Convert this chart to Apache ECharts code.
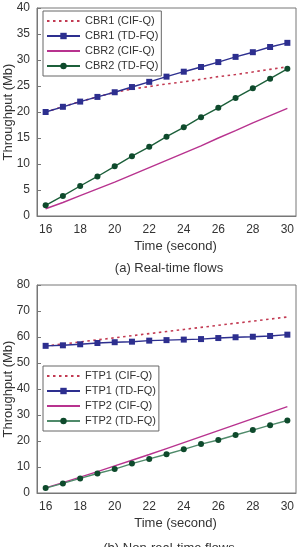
<!DOCTYPE html>
<html>
<head>
<meta charset="utf-8">
<script src="https://cdn.jsdelivr.net/npm/echarts@6/dist/echarts.min.js"></script>
<style>
  html,body{margin:0;padding:0;background:#fff;}
  #chart{width:300px;height:547px;}
</style>
</head>
<body>
<div id="chart"></div>
<script>
// 时间轴（秒）
const timeLabels = ['16','17','18','19','20','21','22','23','24','25','26','27','28','29','30']

// (a) 实时流
const cbr1Cifq = [20, 21, 22, 22.9, 23.8, 24.4, 24.9, 25.4, 25.8, 26.3, 26.8, 27.2, 27.7, 28.2, 28.7]
const cbr1Tdfq = [20, 21, 22, 22.9, 23.8, 24.8, 25.8, 26.8, 27.75, 28.65, 29.6, 30.6, 31.5, 32.5, 33.3]
const cbr2Cifq = [1.4, 2.6, 3.9, 5.2, 6.5, 7.9, 9.3, 10.7, 12.1, 13.5, 15.0, 16.4, 17.9, 19.3, 20.7]
const cbr2Tdfq = [2.05, 3.85, 5.77, 7.6, 9.55, 11.5, 13.3, 15.25, 17.05, 19.0, 20.8, 22.7, 24.55, 26.4, 28.3]

// (b) 非实时流
const ftp1Cifq = [56.5, 57.3, 58.1, 58.9, 59.7, 60.5, 61.3, 62.1, 62.9, 63.7, 64.5, 65.3, 66.1, 66.9, 67.7]
const ftp1Tdfq = [56.6, 56.8, 57.2, 57.7, 58.0, 58.2, 58.6, 58.8, 59.0, 59.2, 59.6, 59.9, 60.1, 60.4, 60.9]
const ftp2Cifq = [2, 4, 6.1, 8.2, 10.4, 12.6, 14.8, 17.1, 19.4, 21.7, 24.0, 26.3, 28.6, 30.9, 33.2]
const ftp2Tdfq = [1.9, 3.7, 5.6, 7.5, 9.2, 11.3, 13.1, 14.9, 16.8, 18.8, 20.4, 22.3, 24.2, 26.1, 27.9]

const topNames = ['CBR1 (CIF-Q)', 'CBR1 (TD-FQ)', 'CBR2 (CIF-Q)', 'CBR2 (TD-FQ)']
const botNames = ['FTP1 (CIF-Q)', 'FTP1 (TD-FQ)', 'FTP2 (CIF-Q)', 'FTP2 (TD-FQ)']

const font = 'Liberation Sans, Arial, sans-serif'
const textColor = '#333'
const axisColor = '#777'

const chart = echarts.init(document.getElementById('chart'))

const makeX = (gridIndex) => ({
  type: 'category',
  gridIndex: gridIndex,
  data: timeLabels,
  boundaryGap: true,
  name: 'Time (second)',
  nameLocation: 'middle',
  nameGap: 24,
  nameMoveOverlap: false,
  nameTextStyle: {fontSize: 13, color: textColor, fontFamily: font, padding: [0, 0, 0, 18]},
  axisLine: {lineStyle: {color: axisColor}},
  axisTick: {inside: true, length: 4, interval: 0, lineStyle: {color: axisColor}},
  axisLabel: {interval: 1, fontSize: 12, color: textColor, fontFamily: font, margin: 8},
  splitLine: {show: false}
})

const makeY = (gridIndex, max, step) => ({
  type: 'value',
  gridIndex: gridIndex,
  min: 0,
  max: max,
  interval: step,
  name: 'Throughput (Mb)',
  nameLocation: 'middle',
  nameGap: 22,
  nameMoveOverlap: false,
  nameTextStyle: {fontSize: 13, color: textColor, fontFamily: font},
  axisLine: {show: true, lineStyle: {color: axisColor}},
  axisTick: {show: true, inside: true, length: 4, lineStyle: {color: axisColor}},
  axisLabel: {fontSize: 12, color: textColor, fontFamily: font, margin: 7},
  splitLine: {show: false}
})

// 线型：虚线 / 方块 / 实线 / 圆点
const dashed = (name, data, idx) => ({
  name: name, type: 'line', data: data, xAxisIndex: idx, yAxisIndex: idx,
  symbol: 'none', z: 2,
  lineStyle: {color: '#c23a52', width: 1.6, type: [2.5, 3.5]},
  itemStyle: {color: '#c23a52'}
})
const squares = (name, data, idx) => ({
  name: name, type: 'line', data: data, xAxisIndex: idx, yAxisIndex: idx,
  symbol: 'rect', symbolSize: 6, z: 3,
  lineStyle: {color: '#2d2f8f', width: 1.4},
  itemStyle: {color: '#2d2f8f'}
})
const solid = (name, data, idx) => ({
  name: name, type: 'line', data: data, xAxisIndex: idx, yAxisIndex: idx,
  symbol: 'none', z: 2,
  lineStyle: {color: '#b8338f', width: 1.4},
  itemStyle: {color: '#b8338f'}
})
const dots = (name, data, idx, lineColor) => ({
  name: name, type: 'line', data: data, xAxisIndex: idx, yAxisIndex: idx,
  symbol: 'circle', symbolSize: 6, z: 4,
  lineStyle: {color: lineColor, width: 1.4},
  itemStyle: {color: '#0e4a2c'}
})

// 图例：无标记的线只显示线段
const legendItems = (names) => names.map((n, i) => (
  i % 2 === 0 ? {name: n, itemStyle: {opacity: 0}} : {name: n}
))

const legendBase = {
  orient: 'vertical',
  left: 43,
  itemWidth: 33,
  itemHeight: 8,
  itemGap: 1,
  padding: [3, 3, 3, 3],
  borderColor: '#666',
  borderWidth: 1,
  backgroundColor: '#fff',
  textStyle: {fontSize: 11, color: textColor, fontFamily: font, lineHeight: 14}
}

const option = {
  animation: false,
  title: [
    {text: '(a) Real-time flows', left: 164, top: 257, textAlign: 'center',
     textStyle: {fontSize: 13, fontWeight: 'normal', color: textColor, fontFamily: font}},
    {text: '(b) Non-real-time flows', left: 164, top: 537, textAlign: 'center',
     textStyle: {fontSize: 13, fontWeight: 'normal', color: textColor, fontFamily: font}}
  ],
  legend: [
    Object.assign({}, legendBase, {top: 11, data: legendItems(topNames)}),
    Object.assign({}, legendBase, {top: 366, data: legendItems(botNames)})
  ],
  grid: [
    {left: 37, right: 4, top: 8, height: 208, outerBoundsMode: 'none', containLabel: false,
     show: true, borderColor: axisColor, borderWidth: 1, backgroundColor: '#fff'},
    {left: 37, right: 4, top: 285, height: 208, outerBoundsMode: 'none', containLabel: false,
     show: true, borderColor: axisColor, borderWidth: 1, backgroundColor: '#fff'}
  ],
  xAxis: [makeX(0), makeX(1)],
  yAxis: [makeY(0, 40, 5), makeY(1, 80, 10)],
  series: [
    dashed(topNames[0], cbr1Cifq, 0),
    squares(topNames[1], cbr1Tdfq, 0),
    solid(topNames[2], cbr2Cifq, 0),
    dots(topNames[3], cbr2Tdfq, 0, '#1c5f3a'),
    dashed(botNames[0], ftp1Cifq, 1),
    squares(botNames[1], ftp1Tdfq, 1),
    solid(botNames[2], ftp2Cifq, 1),
    dots(botNames[3], ftp2Tdfq, 1, '#4f8a6a')
  ]
}

chart.setOption(option)
</script>
</body>
</html>
